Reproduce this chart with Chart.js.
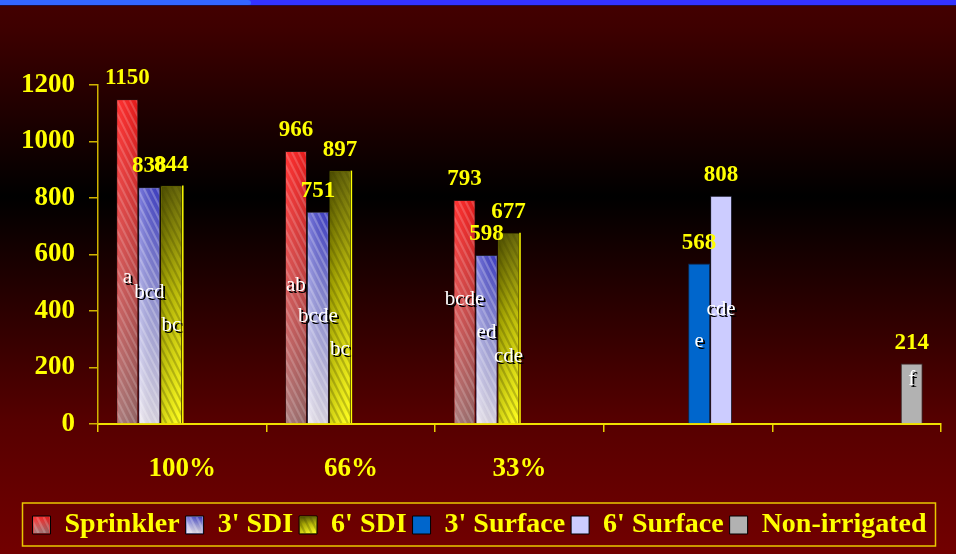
<!DOCTYPE html>
<html>
<head>
<meta charset="utf-8">
<title>Yield by irrigation level and system</title>
<script src="https://cdn.jsdelivr.net/npm/chart.js@4.4.0/dist/chart.umd.min.js"></script>
<style>
  html, body { margin: 0; padding: 0; background: #300000; }
  #wrap { width: 956px; height: 554px; position: relative; }
  canvas { display: block; }
</style>
</head>
<body>
<div id="wrap"><canvas id="chart" width="956" height="554"></canvas></div>
<script>
// Irrigation level (share of full water) on the category axis
const categories = ['100%', '66%', '33%', '', ''];

// Series values, one slot per category (null = no bar in that group)
const sprinkler    = [1150, 966, 793, null, null];
const sdi3         = [838, 751, 598, null, null];
const sdi6         = [844, 897, 677, null, null];
const surface3     = [null, null, null, 568, null];
const surface6     = [null, null, null, 808, null];
const nonIrrigated = [null, null, null, null, 214];

const seriesNames = ['Sprinkler', "3' SDI", "6' SDI", "3' Surface", "6' Surface", 'Non-irrigated'];

// Mean-separation letters written on each bar
const sprinklerLetters    = ['a', 'ab', 'bcde', null, null];
const sdi3Letters         = ['bcd', 'bcde', 'ed', null, null];
const sdi6Letters         = ['bc', 'bc', 'cde', null, null];
const surface3Letters     = [null, null, null, 'e', null];
const surface6Letters     = [null, null, null, 'cde', null];
const nonIrrigatedLetters = [null, null, null, null, 'f'];

// Height (in axis units) at which each letter is written
const letterLevels = [
  [518, 490, 440, null, null],
  [465, 380, 323, null, null],
  [348, 263, 238, null, null],
  [null, null, null, 291, null],
  [null, null, null, 405, null],
  [null, null, null, null, 156]
];

// Y axis ticks
const yMin = 0, yMax = 1200, yStep = 200;

const SERIF = "'Liberation Serif', 'Times New Roman', serif";
const YELLOW = '#ffff00';

const seriesValues  = [sprinkler, sdi3, sdi6, surface3, surface6, nonIrrigated];
const seriesLetters = [sprinklerLetters, sdi3Letters, sdi6Letters, surface3Letters, surface6Letters, nonIrrigatedLetters];

const flatColors   = ['#e03a3a', '#9a9ade', '#a8a800', '#0066cc', '#ccccff', '#b2b2b2'];
const borderColors = ['#2a1010', '#202030', '#202000', '#0a2a55', '#1a1a2a', '#303030'];

// Shaded, hatched finish for the first three series
const textures = [
  { stops: [[0, '#ff1c1c'], [0.45, '#d84646'], [1, '#a47070']], side: ['rgba(255,255,255,0.10)', 'rgba(0,0,0,0.12)'], stripe: 'rgba(255,255,255,0.18)' },
  { stops: [[0, '#4444d0'], [0.5, '#a2a2e2'], [1, '#eee8f2']], side: ['rgba(255,255,255,0.30)', 'rgba(0,0,40,0.10)'], stripe: 'rgba(255,255,255,0.24)' },
  { stops: [[0, '#5a5a00'], [0.45, '#bcbc00'], [1, '#ffff18']], side: ['rgba(0,0,0,0.18)', 'rgba(255,255,120,0.10)'], stripe: 'rgba(70,70,0,0.28)', edge: '#ffff00' },
  null, null, null
];

function paintTexture(ctx, t, left, top, w, h) {
  if (w <= 0 || h <= 0) return;
  ctx.save();
  ctx.beginPath();
  ctx.rect(left, top, w, h);
  ctx.clip();
  const g = ctx.createLinearGradient(0, top, 0, top + h);
  t.stops.forEach(s => g.addColorStop(s[0], s[1]));
  ctx.fillStyle = g;
  ctx.fillRect(left, top, w, h);
  const s = ctx.createLinearGradient(left, 0, left + w, 0);
  s.addColorStop(0, t.side[0]);
  s.addColorStop(1, t.side[1]);
  ctx.fillStyle = s;
  ctx.fillRect(left, top, w, h);
  ctx.strokeStyle = t.stripe;
  ctx.lineWidth = 2.2;
  const slope = 0.5;
  for (let k = -h * slope - 8; k < w + 8; k += 6.5) {
    ctx.beginPath();
    ctx.moveTo(left + k, top);
    ctx.lineTo(left + k + h * slope, top + h);
    ctx.stroke();
  }
  ctx.restore();
}

const backgroundPlugin = {
  id: 'slideBackground',
  beforeDraw(chart) {
    const { ctx, width, height } = chart;
    ctx.save();
    const g = ctx.createLinearGradient(0, 0, 0, height);
    g.addColorStop(0.0, '#440000');
    g.addColorStop(0.05, '#3e0000');
    g.addColorStop(0.355, '#000000');
    g.addColorStop(0.76, '#560000');
    g.addColorStop(0.88, '#650000');
    g.addColorStop(1.0, '#720000');
    ctx.fillStyle = g;
    ctx.fillRect(0, 0, width, height);
    // blue band along the top edge
    ctx.fillStyle = '#3333ff';
    ctx.fillRect(0, 0, width, 5);
    ctx.fillStyle = '#3366ff';
    ctx.beginPath();
    ctx.moveTo(0, 0);
    ctx.lineTo(248, 0);
    ctx.quadraticCurveTo(251, 0, 251, 3);
    ctx.lineTo(251, 4);
    ctx.quadraticCurveTo(251, 5, 248, 5);
    ctx.lineTo(0, 5);
    ctx.closePath();
    ctx.fill();
    ctx.fillStyle = 'rgba(20,20,80,0.7)';
    ctx.fillRect(0, 5, width, 1);
    ctx.restore();
  }
};

const texturePlugin = {
  id: 'barTexture',
  afterDatasetsDraw(chart) {
    const ctx = chart.ctx;
    chart.data.datasets.forEach((ds, di) => {
      const t = textures[di];
      if (!t) return;
      const meta = chart.getDatasetMeta(di);
      meta.data.forEach((el, i) => {
        if (ds.data[i] == null) return;
        const p = el.getProps(['x', 'y', 'base', 'width'], true);
        const left = p.x - p.width / 2, right = p.x + p.width / 2;
        paintTexture(ctx, t, left + 1, p.y + 1, right - left - 2, p.base - p.y - 1);
        if (t.edge) {
          ctx.save();
          ctx.strokeStyle = t.edge;
          ctx.lineWidth = 1.5;
          ctx.beginPath();
          ctx.moveTo(right + 0.5, p.y);
          ctx.lineTo(right + 0.5, p.base);
          ctx.stroke();
          ctx.restore();
        }
      });
    });
  },
  afterDraw(chart) {
    // hatched finish on the legend swatches, plus the legend frame
    const lg = chart.legend;
    if (!lg || !lg.legendHitBoxes || !lg.legendHitBoxes.length) return;
    const ctx = chart.ctx;
    const boxes = lg.legendHitBoxes;
    boxes.forEach((hb, i) => {
      const t = textures[i];
      if (!t) return;
      const top = hb.top + (hb.height - 18) / 2;
      paintTexture(ctx, t, hb.left + 1, top + 1, 16, 16);
    });
    const minLeft = Math.min(...boxes.map(b => b.left));
    const maxRight = Math.max(...boxes.map(b => b.left + b.width));
    const cy = boxes[0].top + boxes[0].height / 2;
    ctx.save();
    ctx.strokeStyle = '#e8c800';
    ctx.lineWidth = 1.5;
    ctx.strokeRect(minLeft - 10, cy - 22, (maxRight + 9) - (minLeft - 10), 43);
    ctx.restore();
  }
};

const labelPlugin = {
  id: 'barLabels',
  afterDatasetsDraw(chart) {
    const ctx = chart.ctx;
    const yScale = chart.scales.y;
    ctx.save();
    chart.data.datasets.forEach((ds, di) => {
      const meta = chart.getDatasetMeta(di);
      meta.data.forEach((el, i) => {
        const v = ds.data[i];
        if (v == null) return;
        const p = el.getProps(['x', 'y'], true);
        // value above the bar
        ctx.font = 'bold 23px ' + SERIF;
        ctx.textAlign = 'center';
        ctx.textBaseline = 'alphabetic';
        ctx.fillStyle = YELLOW;
        ctx.fillText(String(v), p.x, p.y - 15);
        // significance letter on the bar
        const letter = seriesLetters[di][i];
        const lv = letterLevels[di][i];
        if (letter && lv != null) {
          const ly = yScale.getPixelForValue(lv);
          ctx.font = '21px ' + SERIF;
          ctx.textBaseline = 'middle';
          ctx.fillStyle = '#000000';
          ctx.fillText(letter, p.x + 2, ly + 2);
          ctx.fillStyle = '#ffffff';
          ctx.fillText(letter, p.x, ly);
        }
      });
    });
    ctx.restore();
  }
};

const datasets = seriesNames.map((name, i) => ({
  label: name,
  data: seriesValues[i],
  backgroundColor: flatColors[i],
  borderColor: borderColors[i],
  borderWidth: 1,
  borderSkipped: 'bottom',
  categoryPercentage: 0.783,
  barPercentage: 1.0
}));

new Chart(document.getElementById('chart'), {
  type: 'bar',
  data: { labels: categories, datasets },
  plugins: [backgroundPlugin, texturePlugin, labelPlugin],
  options: {
    responsive: false,
    animation: false,
    layout: { padding: { top: 85, left: 18, right: 15, bottom: 5 } },
    plugins: {
      tooltip: { enabled: false },
      legend: {
        position: 'bottom',
        labels: {
          color: YELLOW,
          font: { family: SERIF, size: 28, weight: 'bold' },
          boxWidth: 18,
          boxHeight: 18,
          padding: 6,
          generateLabels(chart) {
            return chart.data.datasets.map((ds, i) => ({
              text: ds.label,
              fillStyle: flatColors[i],
              strokeStyle: '#000000',
              lineWidth: 1,
              fontColor: YELLOW,
              hidden: false,
              datasetIndex: i
            }));
          }
        }
      }
    },
    scales: {
      x: {
        grid: { offset: true, drawOnChartArea: false, drawTicks: true, tickLength: 8, color: '#e8d000', lineWidth: 1.5 },
        border: { display: true, color: '#f0e000', width: 2 },
        ticks: {
          color: YELLOW,
          padding: 21,
          maxRotation: 0,
          font: { family: SERIF, size: 27, weight: 'bold' }
        },
        afterFit(scale) { scale.height = 81; }
      },
      y: {
        min: yMin,
        max: yMax,
        grid: { drawOnChartArea: false, drawTicks: true, tickLength: 9, color: '#d0b400', lineWidth: 1.5 },
        border: { display: true, color: '#d0b400', width: 1.5 },
        ticks: {
          stepSize: yStep,
          color: YELLOW,
          padding: 14,
          font: { family: SERIF, size: 27, weight: 'bold' },
          callback: (v) => String(v)
        },
        afterFit(scale) { scale.width = 80; }
      }
    }
  }
});
</script>
</body>
</html>
